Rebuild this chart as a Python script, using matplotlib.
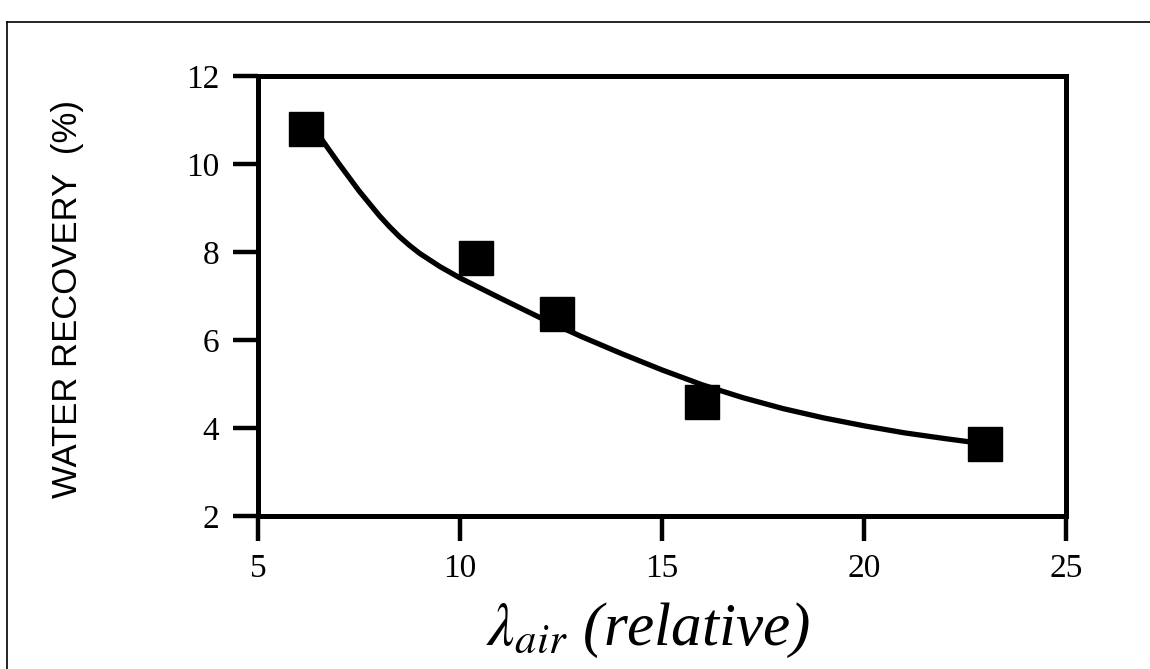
import matplotlib
matplotlib.use("Agg")
import matplotlib.pyplot as plt
from matplotlib.lines import Line2D

# Measured data points
lam_air = [6.2, 10.4, 12.4, 16.0, 23.0]
water_recovery = [10.80, 7.86, 6.59, 4.60, 3.64]

# Fitted curve
curve_x = [6.3, 6.6, 7.0, 7.5, 8.0, 8.25, 8.5, 8.75, 9.0, 9.5, 10.0, 10.5, 11.0, 12.0,
           13.0, 14.0, 15.0, 16.0, 17.0, 18.0, 19.0, 20.0, 21.0, 22.0, 22.9]
curve_y = [10.92, 10.53, 10.01, 9.39, 8.83, 8.58, 8.35, 8.15, 7.97, 7.67, 7.41, 7.18,
           6.95, 6.50, 6.08, 5.69, 5.32, 4.98, 4.69, 4.44, 4.23, 4.05, 3.89, 3.76, 3.65]

x_ticks = [5, 10, 15, 20, 25]
y_ticks = [2, 4, 6, 8, 10, 12]

plt.rcParams['mathtext.fontset'] = 'stix'

W, H = 1150, 669
fig = plt.figure(figsize=(W / 100, H / 100), dpi=100)
fig.patch.set_facecolor('white')

# outer frame of the scan
fig.add_artist(Line2D([7 / W, 7 / W], [0, 1 - 22 / H], transform=fig.transFigure,
                      color='black', lw=1.2))
fig.add_artist(Line2D([7 / W, 1], [1 - 22 / H, 1 - 22 / H], transform=fig.transFigure,
                      color='black', lw=1.2))

ax = fig.add_axes([258 / W, 153 / H, 808 / W, 440 / H])
ax.plot(curve_x, curve_y, color='black', lw=3.8, solid_capstyle='round',
        solid_joinstyle='round', zorder=2)
ax.plot(lam_air, water_recovery, linestyle='none', marker='s', markersize=25,
        color='black', zorder=3)

ax.set_xlim(5, 25)
ax.set_ylim(2, 12)
ax.set_xticks(x_ticks)
ax.set_yticks(y_ticks)
for s in ax.spines.values():
    s.set_linewidth(3.6)
ax.tick_params(axis='both', direction='out', length=18, width=3.2, color='black')
ax.tick_params(axis='x', pad=9)
ax.tick_params(axis='y', pad=10)
for lab in ax.get_xticklabels() + ax.get_yticklabels():
    lab.set_fontfamily('Liberation Serif')
    lab.set_fontsize(24)

fig.text(68 / W, 1 - 299 / H, 'WATER RECOVERY  (%)', rotation=90,
         ha='center', va='center', fontsize=25, family='Liberation Sans')

fig.text(648 / W, 1 - 645 / H, r'$\lambda_{\mathit{air}}$ (relative)',
         ha='center', va='baseline', fontsize=44, family='Liberation Serif',
         style='italic', weight='normal')

fig.savefig('out.png', dpi=100, facecolor='white')
